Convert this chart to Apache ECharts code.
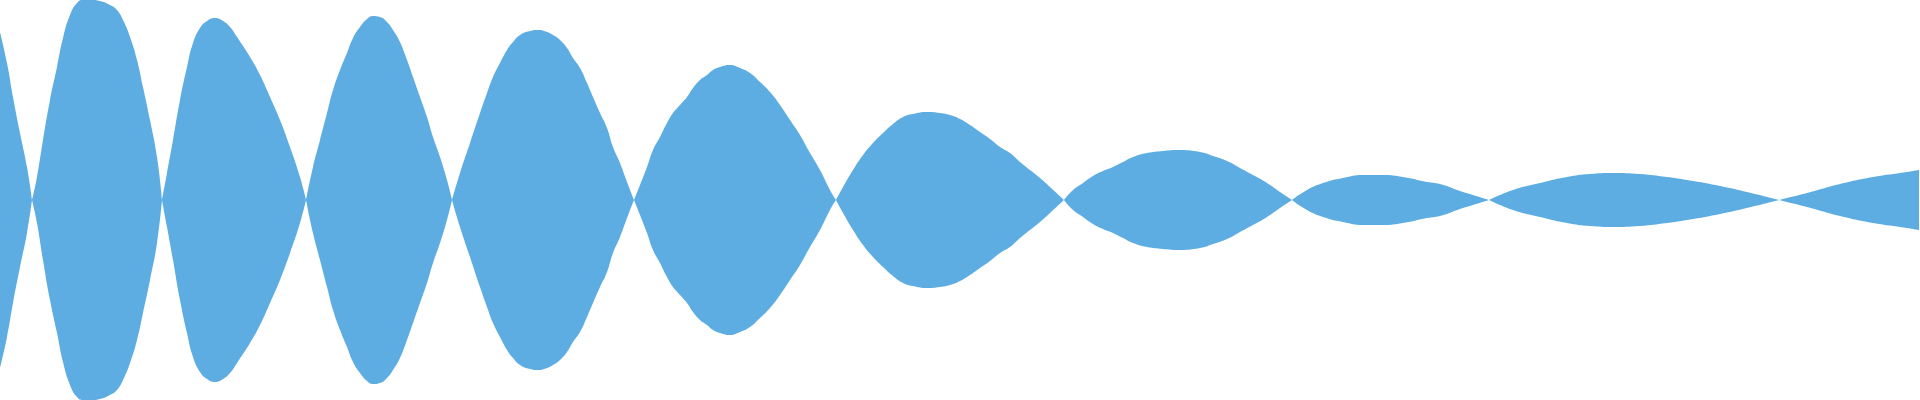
<!DOCTYPE html>
<html>
<head>
<meta charset="utf-8">
<script src="https://cdn.jsdelivr.net/npm/echarts@6/dist/echarts.min.js"></script>
<style>
  html, body { margin: 0; padding: 0; background: #fff; }
  #main { width: 1920px; height: 400px; }
</style>
</head>
<body>
<div id="main"></div>
<script>
// sample positions along the x axis; null marks the break between two lobes
const sampleX = [
  0, 7, 13, 20, 27, 32, null,
  32, 37, 43, 50, 57, 63, 70, 77, 83, 92, 100, 110, 117, 123, 130, 137, 143, 150, 157, 162, null,
  162, 167, 173, 180, 187, 193, 200, 207, 215, 223, 230, 237, 250, 260, 270, 280, 290, 300, 306, null,
  306, 313, 320, 327, 333, 340, 347, 353, 360, 367, 373, 380, 387, 393, 400, 407, 413, 420, 427, 433, 440, 447, 452, null,
  452, 460, 470, 480, 487, 493, 500, 507, 513, 520, 530, 538, 547, 553, 560, 567, 573, 580, 587, 593, 600, 607, 613, 620, 627, 634, null,
  634, 640, 647, 653, 660, 667, 673, 680, 687, 693, 700, 707, 713, 720, 730, 740, 750, 760, 770, 780, 790, 800, 810, 820, 830, 836, null,
  836, 843, 853, 863, 873, 883, 893, 903, 913, 927, 940, 950, 960, 970, 980, 990, 1000, 1010, 1020, 1030, 1040, 1050, 1064, null,
  1064, 1073, 1083, 1093, 1103, 1113, 1123, 1133, 1147, 1163, 1177, 1200, 1213, 1227, 1240, 1253, 1267, 1280, 1292, null,
  1292, 1307, 1323, 1343, 1363, 1383, 1403, 1427, 1440, 1460, 1473, 1489, null,
  1489, 1513, 1540, 1567, 1590, 1613, 1640, 1667, 1693, 1720, 1747, 1779, null,
  1779, 1807, 1840, 1873, 1900, 1919
];

// envelope (amplitude) at each sample, mirrored above and below zero
const amplitude = [
  168, 137, 103, 67, 33, 0, null,
  0, 23, 60, 100, 133, 162, 185, 197, 200, 200, 199, 195, 190, 180, 163, 140, 113, 80, 43, 0, null,
  0, 27, 60, 100, 133, 157, 172, 179, 182, 179, 173, 163, 143, 125, 103, 80, 53, 23, 0, null,
  0, 33, 60, 87, 110, 130, 147, 162, 173, 181, 184, 183, 178, 170, 158, 140, 123, 103, 83, 63, 43, 20, 0, null,
  0, 27, 57, 87, 107, 123, 137, 150, 158, 165, 169, 170, 168, 165, 160, 152, 142, 132, 117, 103, 87, 72, 53, 37, 18, 0, null,
  0, 15, 33, 50, 63, 77, 87, 95, 103, 112, 120, 125, 130, 133, 135, 132, 127, 118, 108, 95, 80, 65, 47, 30, 10, 0, null,
  0, 13, 30, 45, 57, 67, 76, 83, 86, 88, 87, 85, 81, 75, 68, 61, 53, 47, 38, 30, 22, 13, 0, null,
  0, 10, 17, 24, 29, 33, 38, 43, 47, 49, 50, 48, 44, 39, 32, 25, 17, 8, 0, null,
  0, 10, 17, 22, 25, 25, 23, 18, 16, 9, 5, 0, null,
  0, 10, 17, 23, 26, 27, 26, 23, 19, 14, 8, 0, null,
  0, 7, 16, 23, 27, 30
];

const color = '#5dade2';

function buildData(sign) {
  return sampleX.map((x, i) => {
    if (x === null || amplitude[i] === null) return '-';
    return [x, sign * amplitude[i]];
  });
}

function waveSeries(sign) {
  return {
    type: 'line',
    smooth: true,
    showSymbol: false,
    connectNulls: false,
    lineStyle: { width: 0 },
    areaStyle: { color: color, opacity: 1 },
    data: buildData(sign)
  };
}

const chart = echarts.init(document.getElementById('main'));
chart.setOption({
  animation: false,
  grid: { left: 0, right: 0, top: 0, bottom: 0 },
  xAxis: {
    type: 'value',
    min: 0,
    max: 1920,
    show: false
  },
  yAxis: {
    type: 'value',
    min: -200,
    max: 200,
    show: false
  },
  series: [waveSeries(1), waveSeries(-1)]
});
</script>
</body>
</html>
